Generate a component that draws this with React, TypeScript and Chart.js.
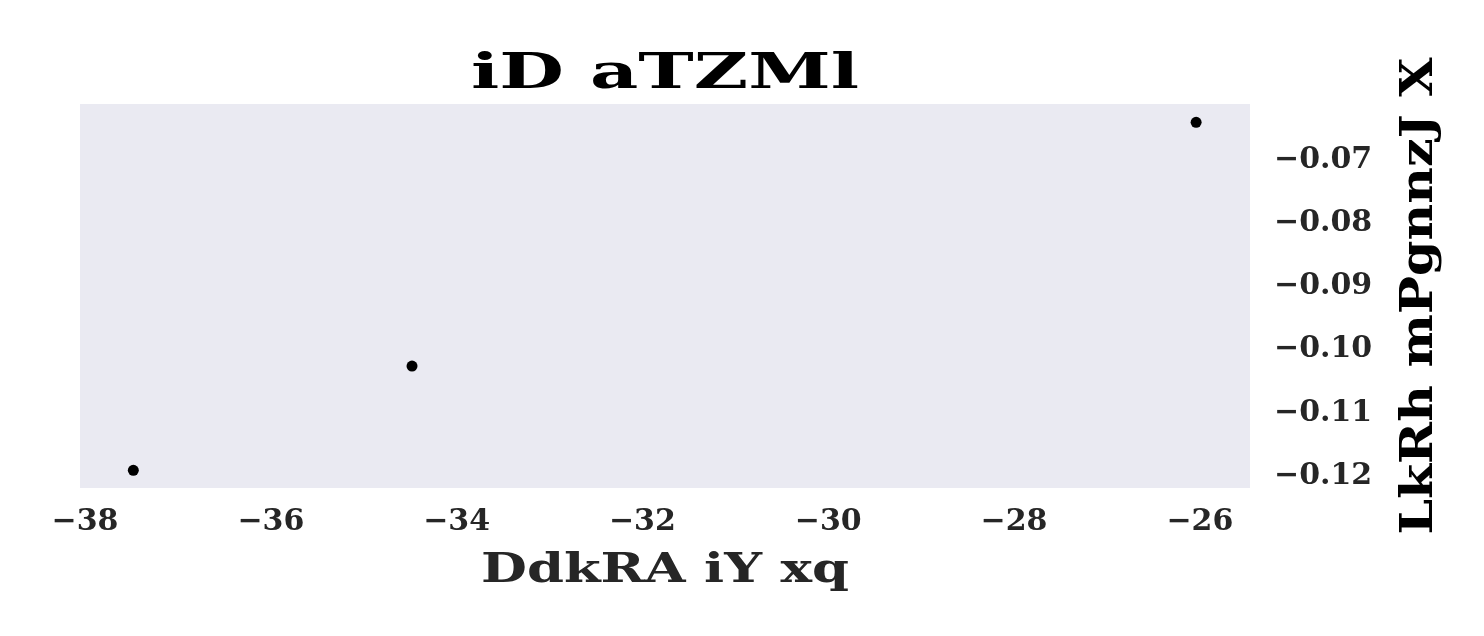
import React, { useEffect, useRef } from "react";
import { Chart, registerables } from "chart.js";

Chart.register(...registerables);

const TITLE = "iD aTZMl";
const X_TITLE = "DdkRA iY xq";
const Y_TITLE = "LkRh mPgnnzJ X";

const xValues = [-37.48, -34.48, -26.04];
const yValues = [-0.1191, -0.1026, -0.064];

const xTicks = [-38, -36, -34, -32, -30, -28, -26];
const yTicks = [-0.12, -0.11, -0.1, -0.09, -0.08, -0.07];

const X_MIN = -38.054;
const X_MAX = -25.46;
const Y_MIN = -0.1219;
const Y_MAX = -0.0611;

const FONT = '"DejaVu Serif", "Liberation Serif", serif';

const fmt = (v: number, digits: number) => {
  const s = Math.abs(v).toFixed(digits);
  return (v < 0 ? "\u2212" : "") + s;
};

// draw centred text stretched horizontally to a target width (the original uses an extended serif face)
function drawWide(
  ctx: CanvasRenderingContext2D,
  text: string,
  size: number,
  targetWidth: number
) {
  ctx.font = `bold ${size}px ${FONT}`;
  const w = ctx.measureText(text).width;
  const k = w > 0 ? targetWidth / w : 1;
  ctx.save();
  ctx.scale(k, 1);
  ctx.textAlign = "center";
  ctx.textBaseline = "alphabetic";
  ctx.fillText(text, 0, 0);
  ctx.restore();
}

const textPlugin = {
  id: "texts",
  afterDraw(chart: any) {
    const { ctx, chartArea } = chart;
    const cx = (chartArea.left + chartArea.right) / 2;
    const cy = (chartArea.top + chartArea.bottom) / 2;

    ctx.save();
    ctx.fillStyle = "#000000";
    ctx.translate(cx, 88);
    drawWide(ctx, TITLE, 49, 388);
    ctx.restore();

    ctx.save();
    ctx.fillStyle = "#262626";
    ctx.translate(cx, 582);
    drawWide(ctx, X_TITLE, 41, 368);
    ctx.restore();

    ctx.save();
    ctx.fillStyle = "#000000";
    ctx.translate(1432, cy);
    ctx.rotate(-Math.PI / 2);
    drawWide(ctx, Y_TITLE, 44, 477);
    ctx.restore();
  },
};

export default function App() {
  const ref = useRef<HTMLCanvasElement | null>(null);

  useEffect(() => {
    document.body.style.margin = "0";
    if (!ref.current) return;
    const chart = new Chart(ref.current, {
      type: "scatter",
      data: {
        datasets: [
          {
            data: xValues.map((x, i) => ({ x, y: yValues[i] })),
            backgroundColor: "#000000",
            borderColor: "#000000",
            pointRadius: 5.5,
            pointHoverRadius: 5.5,
            borderWidth: 0,
          },
        ],
      },
      options: {
        responsive: false,
        animation: false,
        events: [],
        layout: { padding: { left: 80, top: 104, right: 0, bottom: 0 } },
        plugins: {
          legend: { display: false },
          title: { display: false },
          tooltip: { enabled: false },
        },
        scales: {
          x: {
            type: "linear",
            position: "bottom",
            min: X_MIN,
            max: X_MAX,
            grid: { display: false, drawTicks: false },
            border: { display: false },
            afterBuildTicks: (s: any) => {
              s.ticks = xTicks.map((v) => ({ value: v }));
            },
            afterFit: (s: any) => {
              s.height = 148;
            },
            ticks: {
              color: "#262626",
              font: { family: FONT, size: 30, weight: "bold" },
              padding: 16,
              maxRotation: 0,
              autoSkip: false,
              callback: (v: any) => fmt(Number(v), 0),
            },
          },
          y: {
            type: "linear",
            position: "right",
            min: Y_MIN,
            max: Y_MAX,
            grid: { display: false, drawTicks: false },
            border: { display: false },
            afterBuildTicks: (s: any) => {
              s.ticks = yTicks.map((v) => ({ value: v }));
            },
            afterFit: (s: any) => {
              s.width = 234;
            },
            ticks: {
              color: "#262626",
              font: { family: FONT, size: 30, weight: "bold" },
              padding: 24,
              autoSkip: false,
              callback: (v: any) => fmt(Number(v), 2),
            },
          },
        },
      },
      plugins: [
        {
          id: "bg",
          beforeDraw(chart: any) {
            const { ctx, chartArea } = chart;
            ctx.save();
            ctx.fillStyle = "#EAEAF2";
            ctx.fillRect(
              chartArea.left,
              chartArea.top,
              chartArea.right - chartArea.left,
              chartArea.bottom - chartArea.top
            );
            ctx.restore();
          },
        },
        textPlugin,
      ],
    });
    return () => chart.destroy();
  }, []);

  return (
    <canvas
      ref={ref}
      width={1484}
      height={636}
      style={{ display: "block", width: 1484, height: 636 }}
    />
  );
}
